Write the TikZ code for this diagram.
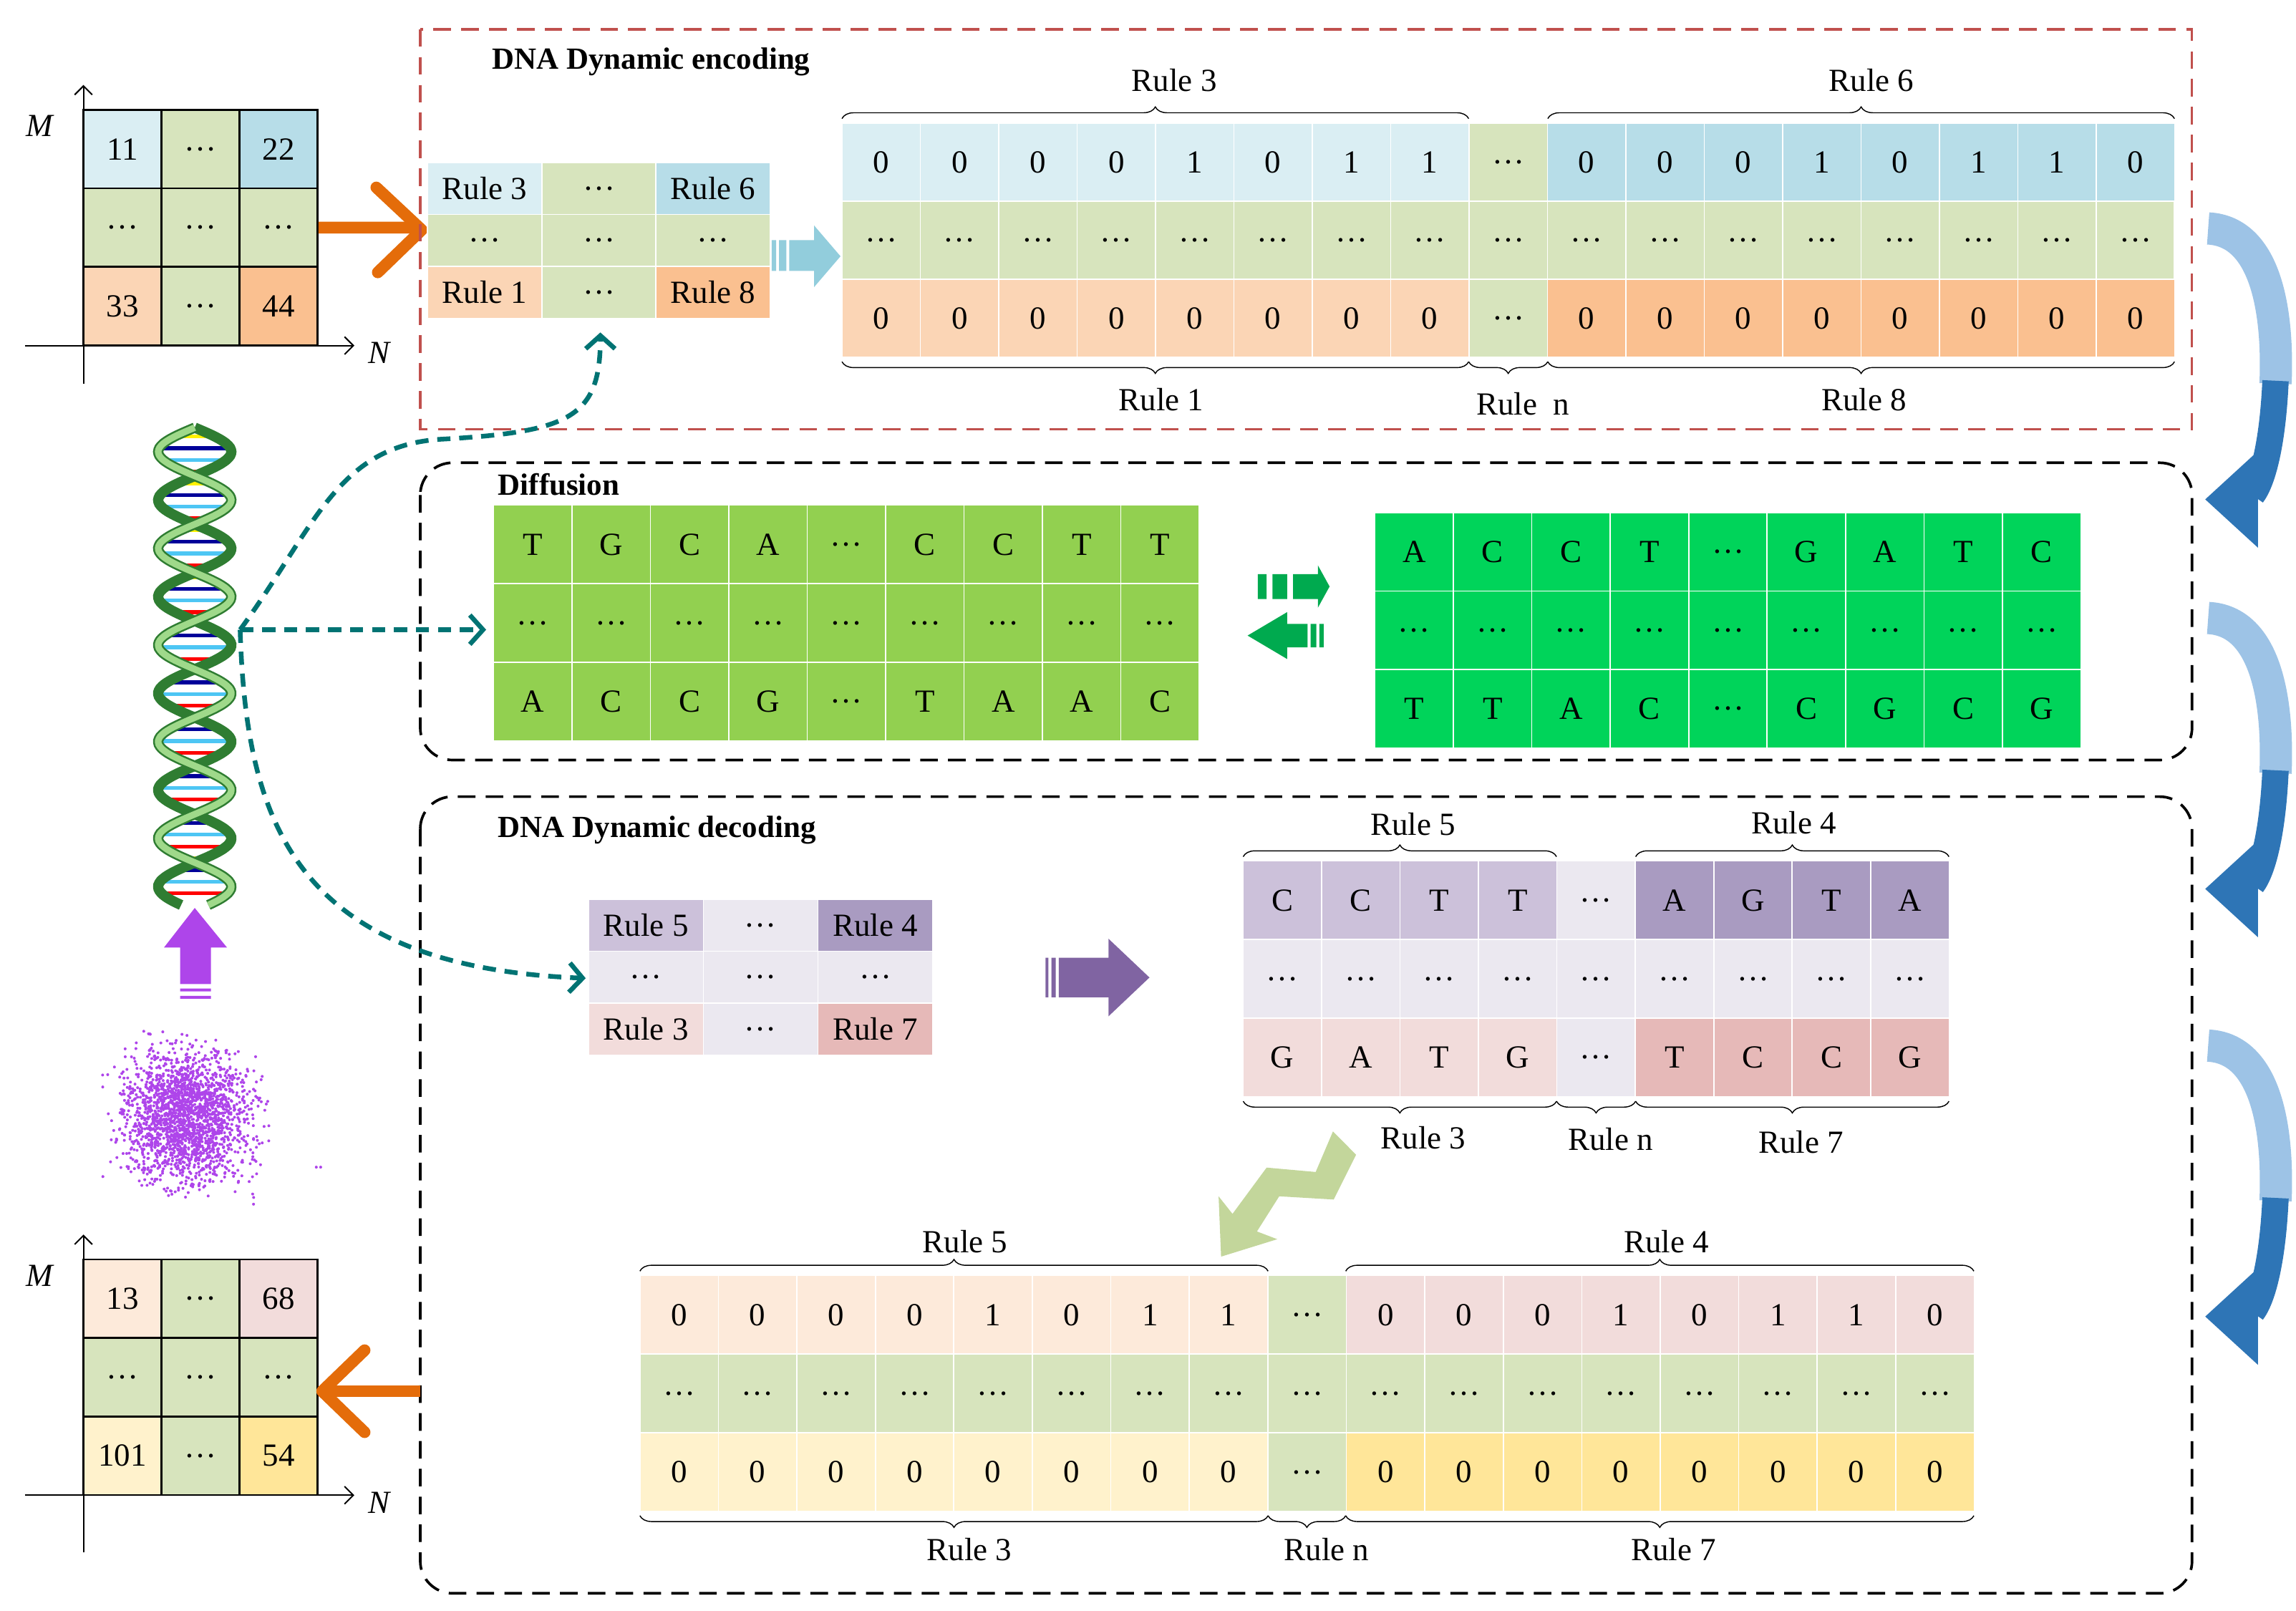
\documentclass[tikz,border=0pt]{standalone}
\usepackage{fontspec}
\setmainfont{Liberation Serif}
\usetikzlibrary{arrows.meta,decorations.pathreplacing}
\definecolor{lb}{HTML}{DAEEF3}\definecolor{mb}{HTML}{B7DDE8}
\definecolor{gr}{HTML}{D7E4BD}\definecolor{po}{HTML}{FBD5B5}
\definecolor{do}{HTML}{FAC090}\definecolor{org}{HTML}{E46C0A}
\definecolor{redd}{HTML}{C0504D}\definecolor{ga}{HTML}{92D050}
\definecolor{gb}{HTML}{00D45A}\definecolor{garr}{HTML}{00AA4F}
\definecolor{p1}{HTML}{CCC1DA}\definecolor{p0}{HTML}{EBE8F0}
\definecolor{p2}{HTML}{A99BC1}\definecolor{r1}{HTML}{F2DCDB}
\definecolor{r2}{HTML}{E6B9B8}\definecolor{parr}{HTML}{8064A2}
\definecolor{pk}{HTML}{FDEADA}\definecolor{y1}{HTML}{FFF2CC}
\definecolor{y2}{HTML}{FFE699}\definecolor{zz}{HTML}{C3D69B}
\definecolor{teal2}{HTML}{007373}\definecolor{bl1}{HTML}{9DC3E6}
\definecolor{bl2}{HTML}{2E75B6}\definecolor{lba}{HTML}{92CDDC}
\definecolor{vio}{HTML}{AE45EA}\definecolor{hl}{HTML}{9FD98A}
\definecolor{hd}{HTML}{2F7D32}
\newcommand\dd{\ldots}
\tikzset{
 cell/.style={draw=white,line width=0.8pt,inner sep=0pt,font=\fontsize{22}{26}\selectfont},
 bcell/.style={cell,draw=black,line width=1.3pt},
 ttl/.style={font=\bfseries\fontsize{21}{25}\selectfont,inner sep=0pt,anchor=west},
 lab/.style={font=\fontsize{22}{26}\selectfont,inner sep=0pt},
 brc/.style={decorate,decoration={brace,amplitude=8pt},line width=0.7pt},
 teald/.style={teal2,line width=3.2pt,dash pattern=on 9pt off 6pt,-{Straight Barb[length=9pt,width=20pt,line width=3.2pt]}},
 ax/.style={line width=1pt,-{Straight Barb[length=6pt,width=12pt]}},
}
\newcommand{\crow}[8][cell]{%
 \foreach \v [count=\i] in {#7} {\node[#1,fill=#6,minimum width=#4pt,minimum height=#5pt] (#8\i) at ({#2+(\i-0.5)*#4},{#3+#5/2}) {\v};}}
\newcommand{\bluearr}[2]{% #1 top y, #2 name
 \coordinate (#2) at (1508,#1+12);
 \draw[bl1,line width=22pt] (1508,#1+12) .. controls (1548,#1+14) and (1556,#1+70) .. (1554,#1+118);
 \draw[bl2,line width=18pt] (1554,#1+116) .. controls (1552,#1+160) and (1545,#1+185) .. (1538,#1+194);
 \fill[bl2] (1506,#1+197) -- (1542,#1+164) -- (1542,#1+230) -- cycle;}
\begin{document}
\begin{tikzpicture}[x=1pt,y=-1pt]
\useasboundingbox (0,0) rectangle (1568,1100);
% ===== top-left matrix
\crow[bcell]{57}{75}{53.3}{53.6}{lb}{11}{ma}
\crow[bcell]{110.3}{75}{53.3}{53.6}{gr}{\dd}{mb}
\crow[bcell]{163.6}{75}{53.3}{53.6}{mb}{22}{mc}
\crow[bcell]{57}{128.6}{53.3}{53.6}{gr}{\dd,\dd,\dd}{md}
\crow[bcell]{57}{182.2}{53.3}{53.6}{po}{33}{me}
\crow[bcell]{110.3}{182.2}{53.3}{53.6}{gr}{\dd}{mf}
\crow[bcell]{163.6}{182.2}{53.3}{53.6}{do}{44}{mg}
\coordinate (ay0) at (57,262);\coordinate (ay1) at (57,58);
\coordinate (ax0) at (17,236);\coordinate (ax1) at (242,236);
\draw[ax] (ay0)--(ay1);\draw[ax] (ax0)--(ax1);
\node[lab,font=\itshape\fontsize{22}{26}\selectfont] (M1) at (27,86) {M};
\node[lab,font=\itshape\fontsize{22}{26}\selectfont] (N1) at (259,241) {N};
% orange arrow
\coordinate (oa) at (288,157);
\draw[org,line width=8pt] (md3.east) -- (284,155.4);
\draw[org,line width=8pt,line cap=round,line join=round] (257,128) -- (oa) -- (258,186);
% ===== encoding box
\draw[redd,line width=1.6pt,dash pattern=on 12pt off 7pt] (287,20) rectangle (1497,293);
\node[ttl] (t1) at (336,42) {DNA Dynamic encoding};
\crow{292}{111}{78}{35.5}{lb}{Rule 3}{sa}
\crow{370}{111}{78}{35.5}{gr}{\dd}{sb}
\crow{448}{111}{78}{35.5}{mb}{Rule 6}{sc}
\crow{292}{146.5}{78}{35.5}{gr}{\dd,\dd,\dd}{sd}
\crow{292}{182}{78}{35.5}{po}{Rule 1}{se}
\crow{370}{182}{78}{35.5}{gr}{\dd}{sf}
\crow{448}{182}{78}{35.5}{do}{Rule 8}{sg}
% light blue arrow
\fill[lba] (527,164) rectangle (530,185) (532,164) rectangle (537,185);
\fill[lba] (539,164) -- (556,164) -- (556,154) -- (574,175) -- (556,196) -- (556,185) -- (539,185) -- cycle;
\coordinate (lbarr) at (574,175);
% big table
\crow{575}{84}{53.53}{53.3}{lb}{0,0,0,0,1,0,1,1}{ea}
\crow{1003.2}{84}{53.53}{53.3}{gr}{\dd}{eb}
\crow{1056.8}{84}{53.53}{53.3}{mb}{0,0,0,1,0,1,1,0}{ec}
\crow{575}{137.3}{53.53}{53.3}{gr}{\dd,\dd,\dd,\dd,\dd,\dd,\dd,\dd,\dd,\dd,\dd,\dd,\dd,\dd,\dd,\dd,\dd}{ed}
\crow{575}{190.6}{53.53}{53.3}{po}{0,0,0,0,0,0,0,0}{ee}
\crow{1003.2}{190.6}{53.53}{53.3}{gr}{\dd}{ef}
\crow{1056.8}{190.6}{53.53}{53.3}{do}{0,0,0,0,0,0,0,0}{eg}
\draw[brc] (575,81) -- (1003,81);\node[lab] (b1) at (802,55) {Rule 3};
\draw[brc] (1057,81) -- (1485,81);\node[lab] (b2) at (1278,55) {Rule 6};
\draw[brc] (1003,247) -- (575,247);\node[lab] (b3) at (793,273) {Rule 1};
\draw[brc] (1057,247) -- (1003,247);\node[lab] (b4) at (1040,276) {Rule\ \ n};
\draw[brc] (1485,247) -- (1057,247);\node[lab] (b5) at (1273,273) {Rule 8};
% ===== diffusion box
\draw[line width=1.8pt,dash pattern=on 12pt off 7pt,rounded corners=22pt] (287,316) rectangle (1497,519);
\node[ttl] (t2) at (340,331) {Diffusion};
\crow{337}{345}{53.56}{53.6}{ga}{T,G,C,A,\dd,C,C,T,T}{da}
\crow{337}{398.6}{53.56}{53.6}{ga}{\dd,\dd,\dd,\dd,\dd,\dd,\dd,\dd,\dd}{db}
\crow{337}{452.2}{53.56}{53.6}{ga}{A,C,C,G,\dd,T,A,A,C}{dc}
\crow{939}{350}{53.56}{53.6}{gb}{A,C,C,T,\dd,G,A,T,C}{dd}
\crow{939}{403.6}{53.56}{53.6}{gb}{\dd,\dd,\dd,\dd,\dd,\dd,\dd,\dd,\dd}{de}
\crow{939}{457.2}{53.56}{53.6}{gb}{T,T,A,C,\dd,C,G,C,G}{df}
\fill[garr] (859,392) rectangle (865,409) (869,392) rectangle (879,409);
\fill[garr] (883,392) -- (900,392) -- (900,386) -- (908,400.5) -- (900,415) -- (900,409) -- (883,409) -- cycle;
\fill[garr] (852,434) -- (879,418) -- (879,426) -- (893,426) -- (893,442) -- (879,442) -- (879,450) -- cycle;
\fill[garr] (895,426) rectangle (899,442) (901,426) rectangle (904,442);
% ===== decoding box
\draw[line width=1.8pt,dash pattern=on 12pt off 7pt,rounded corners=22pt] (287,544) rectangle (1497,1088);
\node[ttl] (t3) at (340,567) {DNA Dynamic decoding};
\crow{402}{614}{78.3}{35.5}{p1}{Rule 5}{qa}
\crow{480.3}{614}{78.3}{35.5}{p0}{\dd}{qb}
\crow{558.6}{614}{78.3}{35.5}{p2}{Rule 4}{qc}
\crow{402}{649.5}{78.3}{35.5}{p0}{\dd,\dd,\dd}{qd}
\crow{402}{685}{78.3}{35.5}{r1}{Rule 3}{qe}
\crow{480.3}{685}{78.3}{35.5}{p0}{\dd}{qf}
\crow{558.6}{685}{78.3}{35.5}{r2}{Rule 7}{qg}
\fill[parr] (714,654) rectangle (716,681) (718,654) rectangle (721,681);
\fill[parr] (723,654) -- (757,654) -- (757,641) -- (785,667.5) -- (757,694) -- (757,681) -- (723,681) -- cycle;
\crow{849}{588}{53.56}{53.6}{p1}{C,C,T,T}{ka}
\crow{1063.2}{588}{53.56}{53.6}{p0}{\dd}{kb}
\crow{1116.8}{588}{53.56}{53.6}{p2}{A,G,T,A}{kc}
\crow{849}{641.6}{53.56}{53.6}{p0}{\dd,\dd,\dd,\dd,\dd,\dd,\dd,\dd,\dd}{kd}
\crow{849}{695.2}{53.56}{53.6}{r1}{G,A,T,G}{ke}
\crow{1063.2}{695.2}{53.56}{53.6}{p0}{\dd}{kf}
\crow{1116.8}{695.2}{53.56}{53.6}{r2}{T,C,C,G}{kg}
\draw[brc] (849,585) -- (1063,585);\node[lab] (c1) at (965,563) {Rule 5};
\draw[brc] (1117,585) -- (1331,585);\node[lab] (c2) at (1225,562) {Rule 4};
\draw[brc] (1063,752) -- (849,752);\node[lab] (c3) at (972,777) {Rule 3};
\draw[brc] (1117,752) -- (1063,752);\node[lab] (c4) at (1100,778) {Rule n};
\draw[brc] (1331,752) -- (1117,752);\node[lab] (c5) at (1230,780) {Rule 7};
% zigzag arrow
\fill[zz] (910.3,772.6) -- (926.1,788.5) -- (910.8,819.1) -- (873.6,816.9) -- (858.4,840.9) -- (872.3,846.2) -- (833.9,858.1) -- (832.2,816.9) -- (841.7,828.9) -- (865.0,797.3) -- (898.5,800.3) -- cycle;
% bottom binary table
\crow{437}{871}{53.6}{53.7}{pk}{0,0,0,0,1,0,1,1}{ha}
\crow{865.8}{871}{53.6}{53.7}{gr}{\dd}{hb}
\crow{919.4}{871}{53.6}{53.7}{r1}{0,0,0,1,0,1,1,0}{hc}
\crow{437}{924.7}{53.6}{53.7}{gr}{\dd,\dd,\dd,\dd,\dd,\dd,\dd,\dd,\dd,\dd,\dd,\dd,\dd,\dd,\dd,\dd,\dd}{hd}
\crow{437}{978.4}{53.6}{53.7}{y1}{0,0,0,0,0,0,0,0}{he}
\crow{865.8}{978.4}{53.6}{53.7}{gr}{\dd}{hf}
\crow{919.4}{978.4}{53.6}{53.7}{y2}{0,0,0,0,0,0,0,0}{hg}
\draw[brc] (437,868) -- (866,868);\node[lab] (e1) at (659,848) {Rule 5};
\draw[brc] (919,868) -- (1348,868);\node[lab] (e2) at (1138,848) {Rule 4};
\draw[brc] (866,1035) -- (437,1035);\node[lab] (e3) at (662,1058) {Rule 3};
\draw[brc] (919,1035) -- (866,1035);\node[lab] (e4) at (906,1058) {Rule n};
\draw[brc] (1348,1035) -- (919,1035);\node[lab] (e5) at (1143,1058) {Rule 7};
% ===== bottom-left matrix
\crow[bcell]{57}{860}{53.3}{53.6}{pk}{13}{na}
\crow[bcell]{110.3}{860}{53.3}{53.6}{gr}{\dd}{nb}
\crow[bcell]{163.6}{860}{53.3}{53.6}{r1}{68}{nc}
\crow[bcell]{57}{913.6}{53.3}{53.6}{gr}{\dd,\dd,\dd}{nd}
\crow[bcell]{57}{967.2}{53.3}{53.6}{y1}{101}{ne}
\crow[bcell]{110.3}{967.2}{53.3}{53.6}{gr}{\dd}{nf}
\crow[bcell]{163.6}{967.2}{53.3}{53.6}{y2}{54}{ng}
\coordinate (by0) at (57,1060);\coordinate (by1) at (57,843);
\coordinate (bx0) at (17,1021);\coordinate (bx1) at (242,1021);
\draw[ax] (by0)--(by1);\draw[ax] (bx0)--(bx1);
\node[lab,font=\itshape\fontsize{22}{26}\selectfont] (M2) at (27,871) {M};
\node[lab,font=\itshape\fontsize{22}{26}\selectfont] (N2) at (259,1026) {N};
\coordinate (ob) at (287,950);\coordinate (obt) at (220,950);
\draw[org,line width=8pt] (ob) -- (224,950);
\draw[org,line width=8pt,line cap=round,line join=round] (249,922) -- (obt) -- (249,978);
% ===== DNA helix
\foreach \yy [count=\k] in {298,306,...,610} {
  \pgfmathsetmacro\hsx{25*sin(mod(\yy-292,66)*5.4545)}
  \pgfmathtruncatemacro\hcc{mod(\k,4)}
  \ifcase\hcc\relax \def\rc{red}\or \def\rc{yellow}\or \def\rc{blue!60!black}\or \def\rc{cyan!70!white}\fi
  \draw[\rc,line width=2.6pt] ({133-\hsx},\yy) -- ({133+\hsx},\yy);
}
\draw[hd,line width=7pt] plot[domain=0:326,samples=120,smooth] ({133+25*sin(\x*5.4545)},{292+\x});
\draw[hd,line width=7pt] plot[domain=0:326,samples=120,smooth] ({133-25*sin(\x*5.4545)},{292+\x});
\draw[hl,line width=4.5pt] plot[domain=0:326,samples=120,smooth] ({133-25*sin(\x*5.4545)},{292+\x});
\coordinate (hx) at (164,430);
% purple up arrow
\fill[vio] (133,620) -- (155,647) -- (144,647) -- (144,672) -- (123,672) -- (123,647) -- (112,647) -- cycle;
\fill[vio] (123,675) rectangle (144,677) (123,680) rectangle (144,682);
% scatter
\pgfmathsetseed{7}
\foreach \k in {1,...,2200} {
  \pgfmathsetmacro\ra{rand}\pgfmathsetmacro\rb{rand}\pgfmathsetmacro\rcc{rand}
  \pgfmathsetmacro\rd{rand}\pgfmathsetmacro\re{rand}\pgfmathsetmacro\rf{rand}
  \pgfmathsetmacro\qqx{127+21*(\ra+\rb+\rcc)}
  \pgfmathsetmacro\qqy{762+22*(\rd+\re+\rf)}
  \fill[vio] (\qqx,\qqy) circle (1pt);
}
\fill[vio] (216,797) circle (1pt) (219,797) circle (1pt);
% teal dashed connectors
\coordinate (ta1) at (332,430);\coordinate (ta2) at (410,227);\coordinate (ta3) at (400,668);
\draw[teald] (hx) -- (ta1);
\draw[teald] (hx) .. controls (215,360) and (230,305) .. (300,300) .. controls (390,295) and (410,285) .. (ta2);
\draw[teald] (hx) .. controls (168,560) and (200,660) .. (ta3);
% ===== right blue arrows
\bluearr{144}{ra}
\bluearr{410}{rb}
\bluearr{702}{rc}
\end{tikzpicture}
\end{document}
